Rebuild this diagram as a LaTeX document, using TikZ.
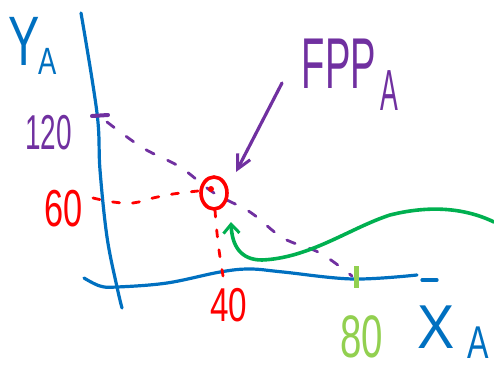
\documentclass[tikz,border=0pt]{standalone}
\usepackage{fontspec}
\setmainfont{Liberation Sans}
\usepackage{graphicx}
\usetikzlibrary{arrows.meta}
\definecolor{axisblue}{HTML}{0070C0}
\definecolor{ppfpurple}{HTML}{7030A0}
\definecolor{pointred}{HTML}{FF0000}
\definecolor{shiftgreen}{HTML}{00B050}
\definecolor{tickgreen}{HTML}{92D050}
\newcommand{\sketchlabel}[3]{\scalebox{#1}[1]{\fontsize{#2}{#2}\selectfont #3}}
\tikzset{
  axis/.style={line width=3.2pt, color=axisblue, line cap=round, line join=round},
  frontier/.style={line width=2.8pt, color=ppfpurple, line cap=round, dash pattern=on 9pt off 15pt},
  guide/.style={line width=2.8pt, color=pointred, line cap=round, dash pattern=on 7pt off 13pt},
  pointer/.style={-{Straight Barb[length=14pt, width=14pt, line width=3pt]}, line width=3.2pt, color=ppfpurple, line cap=round},
  shiftarrow/.style={-{Straight Barb[length=9pt, width=16pt, line width=3pt]}, line width=3.6pt, color=shiftgreen, line cap=round},
  handtext/.style={inner sep=0pt}
}
\begin{document}
\begin{tikzpicture}[x=1pt, y=-1pt]
\useasboundingbox (0,0) rectangle (494,374);
% axes
\draw[axis] plot[smooth, tension=0.6] coordinates {(81,13) (97,113) (100,170) (107,237) (117,287) (122,308)};
\draw[axis] plot[smooth, tension=0.6] coordinates {(84,278) (100,286) (117,287) (167,283) (220,272) (250,269) (283,272) (353,279) (417,275)};
\draw[axis] (422,280) -- (437,280);
\node[handtext, axisblue] (ylab) at (24,41) {\sketchlabel{0.67}{70}{Y}};
\node[handtext, axisblue] (ysub) at (48,61.5) {\sketchlabel{0.72}{38}{A}};
\node[handtext, axisblue] (xlab) at (436,327.5) {\sketchlabel{0.9}{62}{X}};
\node[handtext, axisblue] (xsub) at (478.5,343) {\sketchlabel{0.7}{46}{A}};
% frontier
\coordinate (E) at (214,193);
\draw[line width=4pt, ppfpurple, line cap=round] (92,116) -- (108,115);
\draw[frontier] plot[smooth, tension=0.6] coordinates {(107,122) (143,148) (180,167) (E) (250,212) (283,238) (320,253) (352,276)};
\node[handtext, ppfpurple] (t120) at (48.5,132.5) {\sketchlabel{0.57}{49}{120}};
\node[handtext, ppfpurple] (ppflab) at (339,64) {\sketchlabel{0.53}{72}{FPP}};
\node[handtext, ppfpurple] (ppfsub) at (389,91) {\sketchlabel{0.46}{58}{A}};
\draw[pointer] (282,83) -- (236,172);
% chosen point
\draw[guide] plot[smooth, tension=0.6] coordinates {(93,198) (113,202) (133,203) (153,198) (173,194) (198,191)};
\draw[guide] plot[smooth, tension=0.6] coordinates {(215,210) (216,223) (218,242) (220,257) (223,276)};
\draw[pointred, line width=3.6pt] (E) ellipse [x radius=13, y radius=16];
\fill[pointred] (211,189) circle (3);
\node[handtext, pointred] (t60) at (64,208.5) {\sketchlabel{0.66}{52}{60}};
\node[handtext, pointred] (t40) at (228.5,305) {\sketchlabel{0.7}{47.5}{40}};
% shift
\draw[tickgreen, line width=5pt] (356,266) -- (356,288);
\node[handtext, tickgreen] (t80) at (361.5,337) {\sketchlabel{0.64}{60}{80}};
\draw[shiftarrow] (494,222) .. controls (465,208) and (430,205) .. (390,215) .. controls (350,228) and (310,258) .. (262,260) .. controls (240,260) and (232,245) .. (231,222);
\end{tikzpicture}
\end{document}
